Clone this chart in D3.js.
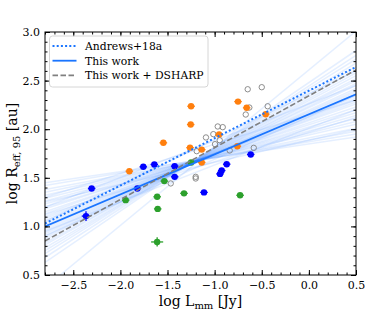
<!DOCTYPE html>
<html><head><meta charset="utf-8">
<script src="https://cdn.jsdelivr.net/npm/d3@7"></script>
<style>body{margin:0;background:#fff}svg{display:block}text{font-family:"DejaVu Serif","Liberation Serif",serif}</style>
</head><body><svg id="c" width="374" height="312"></svg>
<script>
// Data
const blueX = [-2.305,-2.365,-1.82,-1.757,-1.64,-1.424,-1.424,-1.113,-0.872,-0.925,-0.943,-0.617];
const blueY = [1.39,1.106,1.39,1.613,1.637,1.62,1.51,1.35,1.64,1.575,1.54,1.74];
const blueXerr = [0.04,0.045,0.04,0.04,0.04,0.04,0.04,0.04,0.04,0.04,0.04,0.04];
const blueYerr = [0.015,0.05,0.015,0.015,0.015,0.015,0.015,0.015,0.015,0.015,0.015,0.015];
const orangeX = [-1.905,-1.544,-1.25,-1.254,-1.261,-1.137,-1.137,-0.953,-0.752,-0.66,-0.759,-0.458];
const orangeY = [1.568,1.86,2.236,2.048,1.81,1.79,1.658,1.945,2.284,2.22,1.825,2.154];
const orangeXerr = [0.04,0.04,0.04,0.04,0.04,0.04,0.04,0.04,0.04,0.04,0.04,0.04];
const orangeYerr = [0.015,0.015,0.015,0.015,0.015,0.015,0.015,0.015,0.015,0.015,0.015,0.015];
const greenX = [-1.944,-1.534,-1.61,-1.604,-1.61,-1.325,-1.25,-0.73];
const greenY = [1.27,1.466,1.305,1.18,0.84,1.34,1.658,1.32];
const greenXerr = [0.04,0.04,0.04,0.04,0.064,0.04,0.04,0.04];
const greenYerr = [0.015,0.015,0.015,0.015,0.048,0.015,0.015,0.015];
const grayX = [-0.649,-0.50,-0.437,-0.632,-0.670,-0.967,-0.914,-1.014,-1.092,-0.946,-0.996,-1.19,-0.84,-0.585,-1.466,-1.201,-1.201];
const grayY = [2.411,2.432,2.236,2.223,2.151,2.028,2.021,1.949,1.915,1.887,1.846,1.774,1.781,1.808,1.442,1.51,1.493];
// Fit lines: [y at x=-2.8, y at x=0.5]
const andrewsLine = [1.03, 2.64];
const thisWorkLine = [1.00, 2.36];
const dsharpLine = [0.85, 2.61];
// Posterior sample lines: [y at x=-2.8, y at x=0.5]
const sampleLines = [[1.45,1.92],[1.42,1.95],[1.38,1.98],[1.35,2.01],[1.32,2.05],[1.29,2.08],[1.26,2.11],[1.23,2.14],[1.20,2.17],[1.18,2.20],[1.15,2.23],[1.13,2.26],[1.10,2.28],[1.08,2.30],[1.06,2.32],[1.04,2.34],[1.02,2.36],[1.00,2.38],[0.98,2.40],[0.96,2.42],[0.94,2.45],[0.92,2.47],[0.90,2.50],[0.88,2.52],[0.86,2.55],[0.83,2.58],[0.81,2.61],[0.78,2.64],[0.75,2.68],[0.72,2.72],[0.68,2.76],[0.63,2.81],[0.37,3.01],[1.30,2.30],[1.12,2.12],[0.95,2.20],[1.20,2.45],[1.05,2.60],[0.90,2.35],[1.25,2.00]];
const xTicks = [-2.5,-2.0,-1.5,-1.0,-0.5,0.0,0.5];
const yTicks = [0.5,1.0,1.5,2.0,2.5,3.0];
const legendLabels = ["Andrews+18a","This work","This work + DSHARP"];

const svg = d3.select("#c");
const L=45, R=356, T=32, B=275;
const x = d3.scaleLinear().domain([-2.8,0.5]).range([L,R]);
const y = d3.scaleLinear().domain([0.5,3.0]).range([B,T]);
const defs = svg.append("defs");
defs.append("clipPath").attr("id","clip").append("rect").attr("x",L).attr("y",T).attr("width",R-L).attr("height",B-T);
const g = svg.append("g").attr("clip-path","url(#clip)");

const x0=-2.8, x1=0.5;
g.selectAll(".s").data(sampleLines).join("line")
 .attr("x1",x(x0)).attr("x2",x(x1)).attr("y1",d=>y(d[0])).attr("y2",d=>y(d[1]))
 .attr("stroke","#2a7bff").attr("stroke-opacity",0.12).attr("stroke-width",1.5);

function fitLine(d,color,dash,w){
  g.append("line").attr("x1",x(x0)).attr("x2",x(x1)).attr("y1",y(d[0])).attr("y2",y(d[1]))
   .attr("stroke",color).attr("stroke-width",w).attr("stroke-dasharray",dash).attr("stroke-linecap","butt");
}

function pts(X,Y,XE,YE,color){
  const data = X.map((v,i)=>({x:v,y:Y[i],xe:XE[i],ye:YE[i]}));
  const gg = g.append("g");
  gg.selectAll(".h").data(data).join("line").attr("x1",d=>x(d.x-d.xe)).attr("x2",d=>x(d.x+d.xe))
    .attr("y1",d=>y(d.y)).attr("y2",d=>y(d.y)).attr("stroke",color).attr("stroke-width",1.3);
  gg.selectAll(".v").data(data).join("line").attr("x1",d=>x(d.x)).attr("x2",d=>x(d.x))
    .attr("y1",d=>y(d.y-d.ye)).attr("y2",d=>y(d.y+d.ye)).attr("stroke",color).attr("stroke-width",1.3);
  gg.selectAll("circle").data(data).join("circle").attr("cx",d=>x(d.x)).attr("cy",d=>y(d.y)).attr("r",3.2).attr("fill",color);
}
g.selectAll(".gr").data(grayX.map((v,i)=>[v,grayY[i]])).join("circle")
 .attr("cx",d=>x(d[0])).attr("cy",d=>y(d[1])).attr("r",2.7).attr("fill","none").attr("stroke","#808080").attr("stroke-width",0.9);
pts(blueX,blueY,blueXerr,blueYerr,"#0000ff");
pts(orangeX,orangeY,orangeXerr,orangeYerr,"#ff7f0e");
pts(greenX,greenY,greenXerr,greenYerr,"#2ca02c");
fitLine(andrewsLine,"#1a75ff","2,2.2",2);
fitLine(thisWorkLine,"#1a75ff","none",1.8);
fitLine(dsharpLine,"#808080","5.5,2.5",1.6);

// axes
const fmt = d=> (d<0?"\u2212":"")+Math.abs(d).toFixed(1);
const minorX = d3.range(-2.8,0.501,0.1), minorY=d3.range(0.5,3.001,0.1);
function ax(axis,tr){ const a=svg.append("g").attr("transform",tr).call(axis).attr("font-family",null); a.select(".domain").remove(); a.selectAll("line").attr("stroke","#000"); return a;}
const bx=ax(d3.axisBottom(x).tickValues(xTicks).tickFormat(fmt).tickSizeInner(-5).tickSizeOuter(0).tickPadding(4),`translate(0,${B})`);
bx.selectAll("text").attr("font-size",11).attr("fill","#000").attr("dy","0.9em");
ax(d3.axisBottom(x).tickValues(minorX).tickFormat("").tickSizeInner(-2.5).tickSizeOuter(0),`translate(0,${B})`);
ax(d3.axisTop(x).tickValues(xTicks).tickFormat("").tickSizeInner(-5).tickSizeOuter(0),`translate(0,${T})`);
ax(d3.axisTop(x).tickValues(minorX).tickFormat("").tickSizeInner(-2.5).tickSizeOuter(0),`translate(0,${T})`);
const ly=ax(d3.axisLeft(y).tickValues(yTicks).tickFormat(d=>d.toFixed(1)).tickSizeInner(-5).tickSizeOuter(0).tickPadding(4),`translate(${L},0)`);
ly.selectAll("text").attr("font-size",11).attr("fill","#000").attr("dx","-0.1em");
ax(d3.axisLeft(y).tickValues(minorY).tickFormat("").tickSizeInner(-2.5).tickSizeOuter(0),`translate(${L},0)`);
ax(d3.axisRight(y).tickValues(yTicks).tickFormat("").tickSizeInner(-5).tickSizeOuter(0),`translate(${R},0)`);
ax(d3.axisRight(y).tickValues(minorY).tickFormat("").tickSizeInner(-2.5).tickSizeOuter(0),`translate(${R},0)`);
svg.append("rect").attr("x",L).attr("y",T).attr("width",R-L).attr("height",B-T).attr("fill","none").attr("stroke","#000").attr("stroke-width",1);

// axis labels
const xl = svg.append("text").attr("x",(L+R)/2).attr("y",306).attr("text-anchor","middle").attr("font-size",14);
xl.append("tspan").text("log L");
xl.append("tspan").text("mm").attr("font-size",10).attr("dy",3);
xl.append("tspan").text(" [Jy]").attr("dy",-3);
const yl = svg.append("text").attr("transform",`translate(17,${(T+B)/2}) rotate(-90)`).attr("text-anchor","middle").attr("font-size",14);
yl.append("tspan").text("log R");
yl.append("tspan").text("eff, 95").attr("font-size",10).attr("dy",3);
yl.append("tspan").text(" [au]").attr("dy",-3);

// legend
svg.append("rect").attr("x",49.5).attr("y",36).attr("width",158.5).attr("height",51).attr("rx",3)
 .attr("fill","#fff").attr("fill-opacity",0.85).attr("stroke","#cccccc").attr("stroke-width",0.8);
const lstyles=[["#1a75ff","2,2.2",2],["#1a75ff","none",1.8],["#808080","5.5,2.5",1.6]];
legendLabels.forEach((t,i)=>{
  const yy=46+i*14.7;
  svg.append("line").attr("x1",52.5).attr("x2",76.5).attr("y1",yy).attr("y2",yy).attr("stroke",lstyles[i][0]).attr("stroke-dasharray",lstyles[i][1]).attr("stroke-width",lstyles[i][2]);
  svg.append("text").attr("x",85).attr("y",yy+3.9).attr("font-size",10.8).text(t);
});
</script></body></html>
